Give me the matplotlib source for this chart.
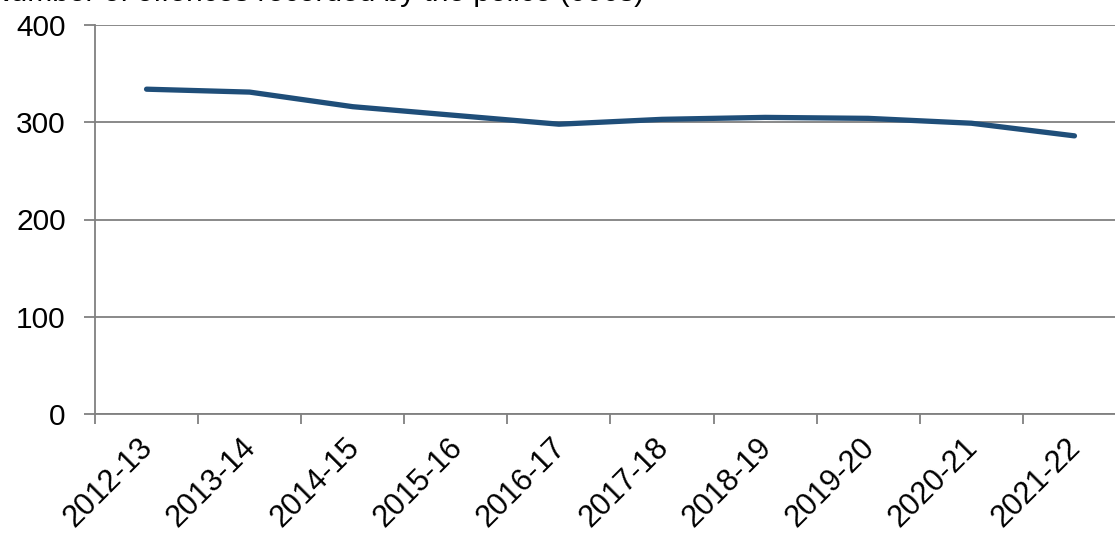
import numpy as np
from matplotlib import pyplot as plt
from matplotlib import transforms

plt.rcParams['font.family'] = ['Liberation Sans', 'DejaVu Sans']

# data
years = ["2012-13", "2013-14", "2014-15", "2015-16", "2016-17",
         "2017-18", "2018-19", "2019-20", "2020-21", "2021-22"]
offences = [334, 331, 316, 307, 298, 303, 305, 304, 299, 286]
y_ticks = [0, 100, 200, 300, 400]
title = "Number of offences recorded by the police (000s)"

fig = plt.figure(figsize=(11.15, 5.36), dpi=100)
ax = fig.add_axes([95 / 1115, 1 - 414 / 536, 1031 / 1115, 389 / 536])

x = np.arange(len(years))
ax.plot(x, offences, color="#1F4E79", linewidth=3.8, solid_capstyle="round")

ax.set_xlim(-0.5, len(years) - 0.5)
ax.set_ylim(0, 400)
ax.set_yticks(y_ticks)
ax.yaxis.grid(True, color="#808080", linewidth=1.3)
ax.set_axisbelow(True)

# category ticks sit between categories, labels on the categories
ax.set_xticks(np.arange(-0.5, len(years), 1.0))
ax.set_xticklabels([])
ax.set_xticks(x, minor=True)
ax.set_xticklabels(years, minor=True, rotation=45, ha="right", va="center",
                   rotation_mode="anchor", fontsize=22)
ax.tick_params(axis="x", which="minor", length=0, pad=21)
ax.tick_params(axis="x", which="major", length=7, color="#808080", width=1.3)
ax.tick_params(axis="y", length=8, color="#808080", width=1.3, labelsize=21.5, pad=13)

shift = transforms.ScaledTranslation(2 / 100, 0, fig.dpi_scale_trans)
for lbl in ax.get_xticklabels(minor=True):
    lbl.set_transform(lbl.get_transform() + shift)

for side in ["top", "right"]:
    ax.spines[side].set_visible(False)
for side in ["left", "bottom"]:
    ax.spines[side].set_color("#808080")
    ax.spines[side].set_linewidth(1.3)

# the title is cut off at the top of the reference
fig.text(-0.01, 1.0 - 1 / 536, title, fontsize=21.5, va="baseline", ha="left")

fig.savefig("out.png", dpi=100)
